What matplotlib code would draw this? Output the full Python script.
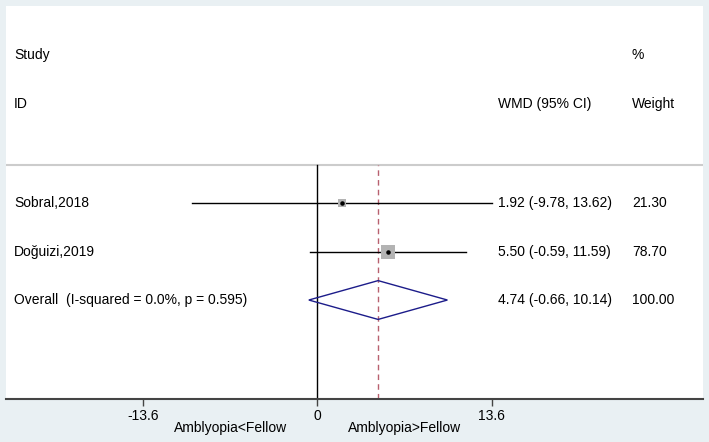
import numpy as np
import matplotlib.pyplot as plt
from matplotlib.patches import Polygon

plt.rcParams['font.family'] = ['Liberation Sans', 'DejaVu Sans']
plt.rcParams['axes.unicode_minus'] = False

# Dane
studies = ['Sobral,2018', 'Doğuizi,2019']
wmd = [1.92, 5.50]
ci_lo = [-9.78, -0.59]
ci_hi = [13.62, 11.59]
weights = [21.30, 78.70]

overall_label = 'Overall  (I-squared = 0.0%, p = 0.595)'
overall_wmd = 4.74
overall_lo = -0.66
overall_hi = 10.14
overall_weight = 100.00

xticks = [-13.6, 0, 13.6]

# Kolory
bg = '#e9f0f3'
diamond_col = '#1c1c8a'
dash_col = '#b8606f'

fig = plt.figure(figsize=(7.09, 4.42), dpi=100, facecolor=bg)
ax = fig.add_axes([6 / 709, 43 / 442, 697 / 709, 393 / 442])
ax.set_facecolor('white')

y_bot, y_top = 5.04, -3.06
ax.set_xlim(-24.26, 30.06)
ax.set_ylim(y_bot, y_top)

fs = 10
col_study = (14 - 6) / 697
col_wmd = (498 - 6) / 697
col_w = (632 - 6) / 697
tr = ax.get_yaxis_transform()

# Nagłówki
ax.text(col_study, -2.05, 'Study', transform=tr, va='center', fontsize=fs)
ax.text(col_w, -2.05, '%', transform=tr, va='center', fontsize=fs)
ax.text(col_study, -1.04, 'ID', transform=tr, va='center', fontsize=fs)
ax.text(col_wmd, -1.04, 'WMD (95% CI)', transform=tr, va='center', fontsize=fs)
ax.text(col_w, -1.04, 'Weight', transform=tr, va='center', fontsize=fs)

# Linia oddzielająca
sep = 0.22
ax.axhline(sep, color='#cccccc', lw=1.5)

yfrac = (y_bot - sep) / (y_bot - y_top)
ax.axvline(0, ymin=0, ymax=yfrac, color='black', lw=1)
ax.axvline(overall_wmd, ymin=0, ymax=yfrac, color=dash_col, lw=1, ls=(0, (4, 3)))

rows = np.arange(1, len(studies) + 1)
for r, name, m, lo, hi, w in zip(rows, studies, wmd, ci_lo, ci_hi, weights):
    ax.plot([lo, hi], [r, r], color='black', lw=1)
    ax.scatter([m], [r], marker='s', s=w * 1.29, color='#b3b3b3', zorder=3, linewidths=0)
    ax.scatter([m], [r], marker='o', s=5, color='black', zorder=4)
    ax.text(col_study, r, name, transform=tr, va='center', fontsize=fs)
    ax.text(col_wmd, r, f'{m:.2f} ({lo:.2f}, {hi:.2f})', transform=tr, va='center', fontsize=fs)
    ax.text(col_w, r, f'{w:.2f}', transform=tr, va='center', fontsize=fs)

# Romb - wynik łączny
ro = len(studies) + 1
h = 0.4
diamond = Polygon([[overall_lo, ro], [overall_wmd, ro - h], [overall_hi, ro], [overall_wmd, ro + h]],
                  closed=True, fill=False, edgecolor=diamond_col, lw=1, zorder=3)
ax.add_patch(diamond)
ax.text(col_study, ro, overall_label, transform=tr, va='center', fontsize=fs)
ax.text(col_wmd, ro, f'{overall_wmd:.2f} ({overall_lo:.2f}, {overall_hi:.2f})', transform=tr, va='center', fontsize=fs)
ax.text(col_w, ro, f'{overall_weight:.2f}', transform=tr, va='center', fontsize=fs)

# Oś
for s in ['top', 'left', 'right']:
    ax.spines[s].set_visible(False)
ax.spines['bottom'].set_color('#444444')
ax.spines['bottom'].set_linewidth(1.5)
ax.set_yticks([])
ax.set_xticks(xticks)
ax.set_xticklabels([f'{t:g}' for t in xticks])
ax.tick_params(axis='x', length=5, width=1, color='#444444', labelsize=fs, pad=2)

ax.text(-13.6 / 2, -0.075, 'Amblyopia<Fellow', transform=ax.get_xaxis_transform(),
        ha='center', va='center', fontsize=fs)
ax.text(13.6 / 2, -0.075, 'Amblyopia>Fellow', transform=ax.get_xaxis_transform(),
        ha='center', va='center', fontsize=fs)

fig.savefig('out.png', dpi=100, facecolor=bg)
